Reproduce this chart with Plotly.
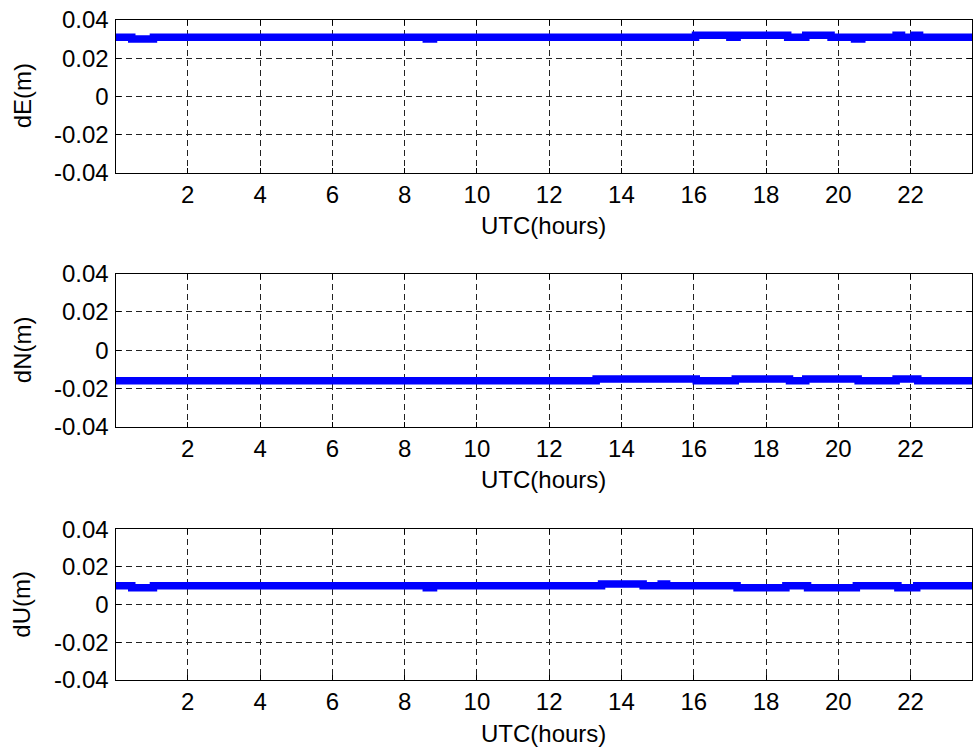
import plotly.graph_objects as go
from plotly.subplots import make_subplots

# Breakpoints (UTC hours) and step levels (metres) for each component
hours_e = [0.0, 0.45, 1.05, 8.6, 8.8, 16.05, 17.0, 17.2, 18.6, 19.1, 19.8,
           20.45, 20.65, 21.6, 21.75, 22.1, 22.25, 23.7]
de_vals = [0.031, 0.030, 0.031, 0.030, 0.031, 0.032, 0.031, 0.032, 0.031,
           0.032, 0.031, 0.030, 0.031, 0.032, 0.031, 0.032, 0.031, 0.031]

hours_n = [0.0, 13.3, 16.07, 17.15, 18.65, 19.1, 20.55, 21.6, 22.2, 23.7]
dn_vals = [-0.016, -0.015, -0.016, -0.015, -0.016, -0.015, -0.016, -0.015,
           -0.016, -0.016]

hours_u = [0.0, 0.45, 1.05, 8.6, 8.8, 13.45, 14.6, 15.1, 15.25, 17.2, 18.55,
           19.15, 20.5, 21.65, 22.17, 23.7]
du_vals = [0.010, 0.009, 0.010, 0.009, 0.010, 0.011, 0.010, 0.011, 0.010,
           0.009, 0.010, 0.009, 0.010, 0.009, 0.010, 0.010]

x_ticks = [2, 4, 6, 8, 10, 12, 14, 16, 18, 20, 22]
y_ticks = [-0.04, -0.02, 0, 0.02, 0.04]
y_tick_text = ["-0.04", "-0.02", "0", "0.02", "0.04"]
y_titles = ["dE(m)", "dN(m)", "dU(m)"]
x_title = "UTC(hours)"

W, H = 974, 753
FONT = "Liberation Sans, Arial, sans-serif"
FS = 24

# panel boxes in pixels: (top, bottom)
panels_px = [(20.0, 172.7), (273.7, 426.7), (529.3, 680.0)]
x_left, x_right = 115.5, 972.0

fig = make_subplots(rows=3, cols=1)

series = [(hours_e, de_vals), (hours_n, dn_vals), (hours_u, du_vals)]
for i, (t, v) in enumerate(series, start=1):
    fig.add_trace(go.Scatter(x=t, y=v, mode="lines", line_shape="hv",
                             line=dict(color="#0000FF", width=7.5),
                             showlegend=False, hoverinfo="skip"),
                  row=i, col=1)

axis_common = dict(
    automargin=False,
    showline=True, linecolor="black", linewidth=1, mirror="ticks",
    ticks="inside", ticklen=5, tickcolor="black", tickwidth=1,
    showgrid=True, gridcolor="#222222", gridwidth=1, griddash="6px,4px",
    zeroline=False,
    tickfont=dict(family=FONT, size=FS, color="black"),
)

for i, (top, bot) in enumerate(panels_px, start=1):
    ydom = [1 - bot / H, 1 - top / H]
    fig.update_xaxes(range=[0, 23.7], tickvals=x_ticks,
                     domain=[x_left / W, x_right / W], ticklabelstandoff=0,
                     **axis_common, row=i, col=1)
    fig.update_yaxes(range=[-0.04, 0.04], tickvals=y_ticks,
                     ticktext=y_tick_text, domain=ydom, ticklabelstandoff=1,
                     **axis_common, row=i, col=1)
    fig.add_annotation(text=x_title, xref="paper", yref="paper",
                       x=(x_left + x_right) / 2 / W, y=1 - (bot + 53) / H,
                       xanchor="center", yanchor="middle", showarrow=False,
                       font=dict(family=FONT, size=FS, color="black"))
    fig.add_annotation(text=y_titles[i - 1], xref="paper", yref="paper",
                       x=22 / W, y=1 - (top + bot) / 2 / H, textangle=-90,
                       xanchor="center", yanchor="middle", showarrow=False,
                       font=dict(family=FONT, size=FS, color="black"))

fig.update_layout(width=W, height=H, margin=dict(l=0, r=0, t=0, b=0),
                  paper_bgcolor="white", plot_bgcolor="white")

fig.write_html("out.html")
